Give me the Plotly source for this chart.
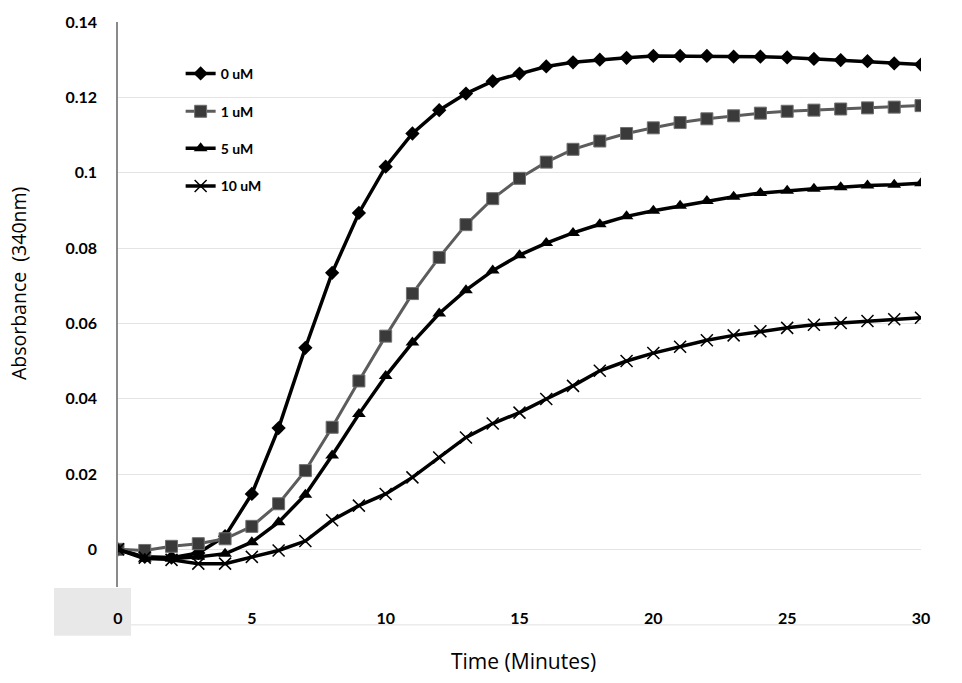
import plotly.graph_objects as go

time_min = list(range(31))
series_names = ["0 uM", "1 uM", "5 uM", "10 uM"]
uM0 = [0, -0.002, -0.0022, -0.001, 0.0035, 0.0147, 0.0322, 0.0535, 0.0734, 0.0893, 0.1016,
       0.1104, 0.1166, 0.121, 0.1243, 0.1263, 0.1282, 0.1293, 0.1300, 0.1305, 0.1310,
       0.1310, 0.1310, 0.1308, 0.1308, 0.1306, 0.1302, 0.1299, 0.1296, 0.1290, 0.1287]
uM1 = [0, -0.0003, 0.0008, 0.0015, 0.0028, 0.0061, 0.0121, 0.0209, 0.0324, 0.0447, 0.0566,
       0.0679, 0.0775, 0.0862, 0.0931, 0.0985, 0.1028, 0.1062, 0.1084, 0.1104, 0.1119,
       0.1133, 0.1143, 0.1151, 0.1158, 0.1163, 0.1166, 0.1169, 0.1172, 0.1174, 0.1178]
uM5 = [0, -0.0025, -0.0025, -0.002, -0.0012, 0.0019, 0.0072, 0.0145, 0.0249, 0.0359, 0.046,
       0.0549, 0.0626, 0.0688, 0.074, 0.0781, 0.0813, 0.084, 0.0863, 0.0884, 0.0899,
       0.0912, 0.0925, 0.0936, 0.0946, 0.0952, 0.0957, 0.0961, 0.0966, 0.0968, 0.0972]
uM10 = [0, -0.0022, -0.0028, -0.0038, -0.0038, -0.002, -0.0003, 0.0022, 0.0077, 0.0116, 0.0147,
        0.0191, 0.0244, 0.0297, 0.0334, 0.0363, 0.0399, 0.0434, 0.0474, 0.0500, 0.0521,
        0.0538, 0.0555, 0.0568, 0.0579, 0.0588, 0.0596, 0.0601, 0.0606, 0.0611, 0.0615]
x_ticks = [0, 5, 10, 15, 20, 25, 30]
y_ticks = [0, 0.02, 0.04, 0.06, 0.08, 0.1, 0.12, 0.14]

fig = go.Figure()

styles = [
    dict(line=dict(color="#000000", width=3.5),
         marker=dict(symbol="diamond", size=11, color="#000000")),
    dict(line=dict(color="#5c5c5c", width=3),
         marker=dict(symbol="square", size=12, color="#3a3a3a", line=dict(color="#707070", width=1))),
    dict(line=dict(color="#000000", width=3.5),
         marker=dict(symbol="triangle-up", size=12, color="#000000")),
    dict(line=dict(color="#000000", width=3.5),
         marker=dict(symbol="x-thin", size=12, color="#000000", line=dict(color="#000000", width=1.5))),
]
legends = ["legend", "legend2", "legend3", "legend4"]
for name, ys, st, lg in zip(series_names, [uM0, uM1, uM5, uM10], styles, legends):
    fig.add_trace(go.Scatter(x=time_min, y=ys, name=name, mode="lines+markers",
                             legend=lg, showlegend=True, **st))

plot_top, plot_bot = 20, 587
leg_y_px = [72, 110, 147, 185]
leg_common = dict(x=0.078, xanchor="left", yanchor="middle", bgcolor="rgba(0,0,0,0)",
                  font=dict(family="Lato", size=14, color="#000000", weight="bold"),
                  itemwidth=30, tracegroupgap=0, visible=True)
for lg, py in zip(legends, leg_y_px):
    fig.update_layout({lg: dict(y=(plot_bot - py) / (plot_bot - plot_top), **leg_common)})

fig.update_layout(
    width=962, height=683,
    showlegend=True,
    margin=dict(l=118, r=41, t=20, b=96),
    paper_bgcolor="white", plot_bgcolor="white",
    font=dict(family="Lato", color="#000000"),
    xaxis=dict(range=[0, 30], tickvals=x_ticks, ticks="", showgrid=False, zeroline=False,
               showline=False, ticklabelstandoff=20,
               tickfont=dict(family="Lato", size=16, color="#000000", weight="bold")),
    yaxis=dict(range=[-0.01, 0.14], tickvals=y_ticks, ticks="", showgrid=True,
               gridcolor="#e4e4e4", gridwidth=1, zeroline=False,
               showline=True, linecolor="#8a8a8a", linewidth=1.5, ticklabelstandoff=16,
               tickfont=dict(family="Lato", size=16, color="#000000", weight="bold")),
    shapes=[
        dict(type="rect", xref="paper", yref="paper",
             x0=(54 - 118) / 803, x1=(131 - 118) / 803,
             y0=(587 - 588) / 567, y1=(587 - 636) / 567,
             fillcolor="#e8e8e8", line=dict(width=0), layer="below"),
        dict(type="line", xref="paper", yref="paper",
             x0=(131 - 118) / 803, x1=1.0, y0=(587 - 625) / 567, y1=(587 - 625) / 567,
             line=dict(color="#e0e0e0", width=1), layer="below"),
    ],
    annotations=[
        dict(text="Time (Minutes)", xref="paper", yref="paper", x=(523 - 118) / 803,
             y=(587 - 661) / 567, xanchor="center", yanchor="middle", showarrow=False,
             font=dict(family="Open Sans", size=21, color="#000000")),
        dict(text="Absorbance  (340nm)", xref="paper", yref="paper", x=(18 - 118) / 803,
             y=(587 - 283) / 567, xanchor="center", yanchor="middle", showarrow=False,
             textangle=-90, font=dict(family="Open Sans", size=19.5, color="#000000")),
    ],
)

fig.write_html("out.html", config={"displayModeBar": False},
               post_script="document.body.style.margin='0px';")
